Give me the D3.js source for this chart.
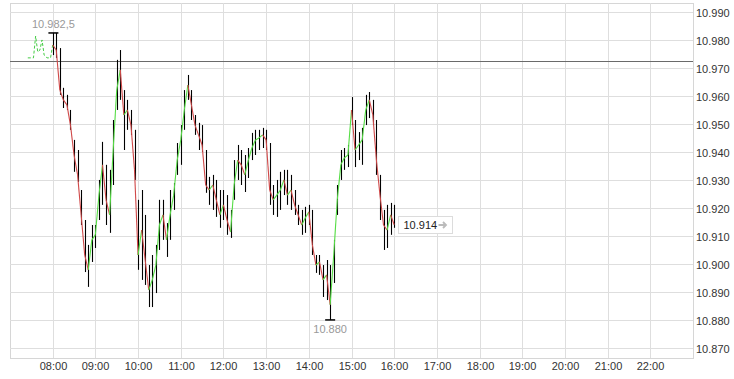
<!DOCTYPE html>
<html>
<head>
<meta charset="utf-8">
<script src="https://cdn.jsdelivr.net/npm/d3@7"></script>
<style>
  html, body { margin: 0; padding: 0; background: #fff; }
  svg { display: block; font-family: "Liberation Sans", Arial, sans-serif; }
</style>
</head>
<body>
<svg id="chart" width="734" height="379"></svg>
<script>
// ---------------- DATA ----------------
const sessionStart = "08:00";          // first 5-minute bar
const barMinutes = 5;                  // bar interval
const closeVals = [10.9782,10.9764,10.9621,10.9586,10.9568,10.9496,10.9389,10.9318,10.9175,10.9032,
  10.8979,10.9086,10.9104,10.9246,10.9354,10.9229,10.9175,10.9407,10.9621,10.9693,
  10.9532,10.9550,10.9496,10.9336,10.9032,10.9121,10.9014,10.8907,10.8943,10.8996,
  10.9139,10.9175,10.9086,10.9175,10.9246,10.9371,10.9443,10.9550,10.9639,10.9568,
  10.9496,10.9461,10.9425,10.9282,10.9264,10.9282,10.9229,10.9175,10.9211,10.9157,
  10.9114,10.9282,10.9371,10.9354,10.9318,10.9371,10.9414,10.9443,10.9450,10.9461,
  10.9443,10.9264,10.9229,10.9246,10.9264,10.9300,10.9246,10.9264,10.9211,10.9175,
  10.9139,10.9164,10.9186,10.9068,10.8996,10.9007,10.8943,10.8961,10.8854,10.9032,
  10.9229,10.9354,10.9379,10.9389,10.9550,10.9407,10.9425,10.9443,10.9550,10.9586,
  10.9532,10.9371,10.9246,10.9139,10.9121,10.9175,10.9140];
const highVals = [10.9825,10.9825,10.9771,10.9629,10.9604,10.9550,10.9443,10.9407,10.9264,10.9157,
  10.9068,10.9139,10.9139,10.9300,10.9436,10.9354,10.9336,10.9514,10.9729,10.9764,
  10.9621,10.9586,10.9550,10.9479,10.9229,10.9264,10.9175,10.8996,10.9032,10.9068,
  10.9229,10.9229,10.9146,10.9264,10.9289,10.9432,10.9496,10.9621,10.9675,10.9621,
  10.9532,10.9504,10.9496,10.9407,10.9311,10.9318,10.9300,10.9264,10.9264,10.9246,
  10.9193,10.9371,10.9425,10.9407,10.9389,10.9414,10.9468,10.9479,10.9479,10.9486,
  10.9479,10.9432,10.9282,10.9300,10.9329,10.9336,10.9336,10.9318,10.9264,10.9211,
  10.9193,10.9204,10.9211,10.9193,10.9032,10.9032,10.8996,10.9014,10.8996,10.9086,
  10.9282,10.9407,10.9414,10.9425,10.9596,10.9514,10.9471,10.9486,10.9604,10.9614,
  10.9586,10.9514,10.9318,10.9193,10.9211,10.9218,10.9211];
const lowVals = [10.9746,10.9736,10.9604,10.9557,10.9550,10.9479,10.9329,10.9293,10.9139,10.8971,
  10.8918,10.9007,10.9057,10.9157,10.9211,10.9139,10.9111,10.9282,10.9550,10.9586,
  10.9407,10.9479,10.9461,10.9300,10.8979,10.8943,10.8925,10.8846,10.8846,10.8896,
  10.9050,10.9086,10.9025,10.9086,10.9193,10.9318,10.9354,10.9479,10.9586,10.9514,
  10.9461,10.9407,10.9400,10.9254,10.9211,10.9193,10.9168,10.9129,10.9157,10.9104,
  10.9093,10.9229,10.9300,10.9282,10.9257,10.9307,10.9371,10.9389,10.9407,10.9414,
  10.9407,10.9211,10.9175,10.9168,10.9193,10.9246,10.9211,10.9193,10.9175,10.9139,
  10.9104,10.9111,10.9139,10.9032,10.8968,10.8961,10.8882,10.8871,10.8800,10.8932,
  10.9175,10.9300,10.9336,10.9346,10.9496,10.9346,10.9371,10.9354,10.9496,10.9521,
  10.9496,10.9318,10.9157,10.9050,10.9057,10.9104,10.9129];
const preTimes = ["07:25","07:33","07:36","07:39","07:42","07:45","07:48","07:52","07:57","08:00"];
const preVals  = [10.9736,10.9736,10.9814,10.9757,10.9764,10.9800,10.9746,10.9736,10.9736,10.9782];
const prevClose = 10.9725;
const dayHigh = 10.9825, dayHighTime = "08:01", dayHighLabel = "10.982,5";
const dayLow = 10.880, dayLowTime = "14:30", dayLowLabel = "10.880";
const lastPrice = 10.914, lastLabel = "10.914";
const xTickLabels = ["08:00","09:00","10:00","11:00","12:00","13:00","14:00","15:00","16:00","17:00","18:00","19:00","20:00","21:00","22:00"];
const yTickVals = [10.870,10.880,10.890,10.900,10.910,10.920,10.930,10.940,10.950,10.960,10.970,10.980,10.990];

// ---------------- HELPERS ----------------
const toMin = s => { const [h, m] = s.split(":").map(Number); return h * 60 + m; };
const fmt = d3.format(".3f");

// ---------------- LAYOUT ----------------
const plot = { left: 10, right: 693, top: 3, bottom: 358 };
const x = d3.scaleLinear().domain([toMin("07:00"), toMin("23:00")]).range([plot.left, plot.right]);
const y = d3.scaleLinear().domain([10.8664, 10.9932]).range([plot.bottom, plot.top]);

const svg = d3.select("#chart");

// plot border
svg.append("rect")
  .attr("x", plot.left + 0.5).attr("y", plot.top + 0.5)
  .attr("width", plot.right - plot.left).attr("height", plot.bottom - plot.top)
  .attr("fill", "none").attr("stroke", "#d6d6d6");

// horizontal grid + right axis labels
const gY = svg.append("g");
yTickVals.forEach(v => {
  const yy = Math.round(y(v)) + 0.5;
  gY.append("line").attr("x1", plot.left).attr("x2", plot.right).attr("y1", yy).attr("y2", yy)
    .attr("stroke", "#dedede");
  gY.append("text").attr("x", 696).attr("y", yy + 4).attr("font-size", 11).attr("fill", "#333")
    .text(fmt(v));
});

// vertical grid + bottom labels
const gX = svg.append("g");
xTickLabels.forEach(lbl => {
  const xx = Math.round(x(toMin(lbl))) + 0.5;
  gX.append("line").attr("x1", xx).attr("x2", xx).attr("y1", plot.top).attr("y2", plot.bottom)
    .attr("stroke", "#dedede");
  gX.append("text").attr("x", xx).attr("y", 370).attr("text-anchor", "middle")
    .attr("font-size", 11).attr("fill", "#333").text(lbl);
});

// previous close line
svg.append("line")
  .attr("x1", plot.left).attr("x2", plot.right)
  .attr("y1", Math.round(y(prevClose)) + 0.5).attr("y2", Math.round(y(prevClose)) + 0.5)
  .attr("stroke", "#6a6a6a").attr("stroke-width", 1);

// pre-market dashed green line
const preLine = d3.line().x((d, i) => x(toMin(preTimes[i]))).y(d => y(d));
svg.append("path").datum(preVals).attr("d", preLine)
  .attr("fill", "none").attr("stroke", "#44cc44").attr("stroke-width", 1)
  .attr("stroke-dasharray", "3,2");

// bars
const t0 = toMin(sessionStart);
const bx = i => x(t0 + i * barMinutes);
const gBars = svg.append("g");
closeVals.forEach((c, i) => {
  gBars.append("line")
    .attr("x1", Math.round(bx(i)) + 0.5).attr("x2", Math.round(bx(i)) + 0.5)
    .attr("y1", y(highVals[i])).attr("y2", y(lowVals[i]))
    .attr("stroke", "#000").attr("stroke-width", 1.1);
});
const gLine = svg.append("g");
closeVals.forEach((c, i) => {
  if (i === 0) return;
  const p = closeVals[i - 1];
  gLine.append("line")
    .attr("x1", bx(i - 1)).attr("y1", y(p)).attr("x2", bx(i)).attr("y2", y(c))
    .attr("stroke", c >= p ? "#55dd44" : "#d04848").attr("stroke-width", 1.1);
});

// day high marker
const hx = x(toMin(dayHighTime));
svg.append("line").attr("x1", hx - 5).attr("x2", hx + 5)
  .attr("y1", y(dayHigh)).attr("y2", y(dayHigh)).attr("stroke", "#000").attr("stroke-width", 1.5);
svg.append("line").attr("x1", hx).attr("x2", hx)
  .attr("y1", y(dayHigh)).attr("y2", y(highVals[1])).attr("stroke", "#000");
svg.append("text").attr("x", hx).attr("y", 28).attr("text-anchor", "middle")
  .attr("font-size", 11).attr("fill", "#999").text(dayHighLabel);

// day low marker
const lx = x(toMin(dayLowTime));
svg.append("line").attr("x1", lx - 5).attr("x2", lx + 5)
  .attr("y1", y(dayLow)).attr("y2", y(dayLow)).attr("stroke", "#000").attr("stroke-width", 1.5);
svg.append("text").attr("x", lx).attr("y", 333).attr("text-anchor", "middle")
  .attr("font-size", 11).attr("fill", "#999").text(dayLowLabel);

// last price box
const ly = y(lastPrice);
const box = svg.append("g").attr("transform", `translate(398.5,${Math.round(ly) - 8.5})`);
box.append("rect").attr("width", 54).attr("height", 17).attr("fill", "#fff").attr("stroke", "#dcdcdc");
box.append("text").attr("x", 5).attr("y", 12.5).attr("font-size", 11).attr("fill", "#222").text(lastLabel);
box.append("path").attr("d", "M40,8.5 L47,8.5 M44.5,5.5 L47.5,8.5 L44.5,11.5")
  .attr("fill", "none").attr("stroke", "#bbb").attr("stroke-width", 1.8);
</script>
</body>
</html>
